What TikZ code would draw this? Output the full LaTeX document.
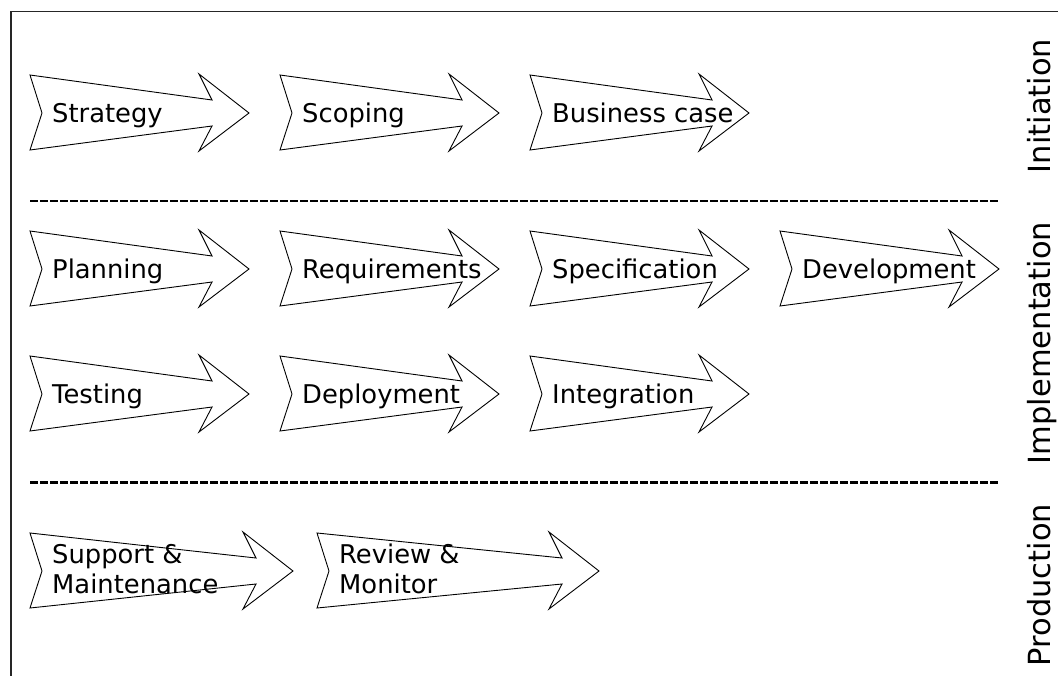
\documentclass[tikz,border=0pt]{standalone}
\usepackage{fontspec}
\setmainfont{DejaVu Sans}
\usetikzlibrary{positioning}

\begin{document}
\begin{tikzpicture}[
    x=1pt, y=-1pt,
    frame/.style={draw=black!85, line width=1.8pt},
    phaseline/.style={draw=black, line width=2.3pt, dash pattern=on 7.5pt off 2.5pt},
    stageline/.style={draw=black, line width=0.9pt, fill=white},
    stagetext/.style={anchor=base west, inner sep=0pt, align=left, font=\fontsize{25.8}{30}\selectfont},
    phase/.style={rotate=90, anchor=base, inner sep=0pt, font=\fontsize{30.5}{36}\selectfont},
    % arrow with notched tail and tapered shaft: {length}{text}{last baseline}
    pics/stage/.style n args={3}{code={
        \draw[stageline] (0,-38) -- (12,0) -- (0,37) -- (#1-37,13) -- (#1-50,38)
            -- (#1,0) -- (#1-50,-39) -- (#1-37,-13) -- cycle;
        \node[stagetext] (-label) at (22,#3) {#2};
    }}
]
\useasboundingbox (0,0) rectangle (1058,675);

% Outer frame (only top and left edges inside the page)
\draw[frame] (1080,11.5) -| (11,700);

% Initiation
\pic (strategy) at (30,113) {stage={219}{Strategy}{9}};
\pic (scoping) at (280,113) {stage={219}{Scoping}{9}};
\pic (bizcase) at (530,113) {stage={219}{Business case}{9}};

\draw[phaseline] (30,201) -- (1000,201);

% Implementation
\pic (planning) at (30,269) {stage={219}{Planning}{9}};
\pic (reqs) at (280,269) {stage={219}{Requirements}{9}};
\pic (spec) at (530,269) {stage={219}{Specification}{9}};
\pic (devel) at (780,269) {stage={219}{Development}{9}};

\pic (testing) at (30,394) {stage={219}{Testing}{9}};
\pic (deploy) at (280,394) {stage={219}{Deployment}{9}};
\pic (integr) at (530,394) {stage={219}{Integration}{9}};

\draw[phaseline] (30,482.5) -- (1000,482.5);

% Production
\pic (support) at (30,571) {stage={263}{Support \&\\Maintenance}{22}};
\pic (review) at (317,571) {stage={282}{Review \&\\Monitor}{22}};

% Phase names
\node[phase] (init) at (1050,106) {Initiation};
\node[phase] (impl) at (1050,343) {Implementation};
\node[phase] (prod) at (1050,585) {Production};

\end{tikzpicture}
\end{document}
